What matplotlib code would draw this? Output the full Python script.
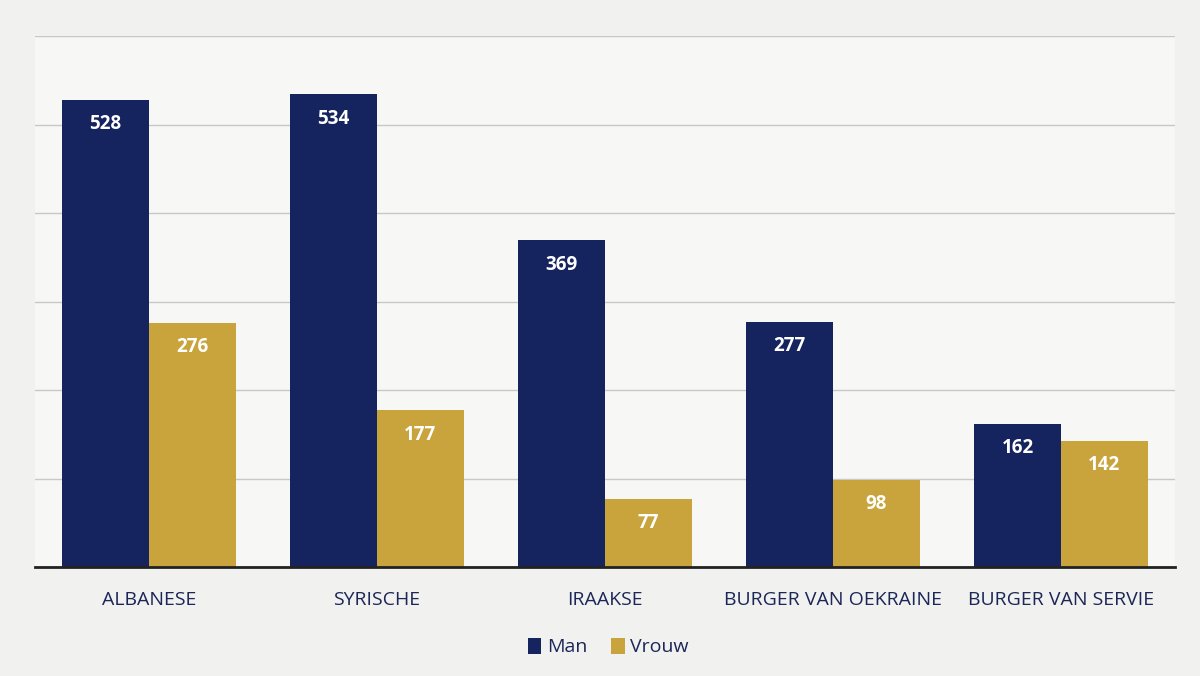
import numpy as np
import matplotlib.pyplot as plt

# data
categories = ["ALBANESE", "SYRISCHE", "IRAAKSE", "BURGER VAN OEKRAINE", "BURGER VAN SERVIE"]
man = [528, 534, 369, 277, 162]
vrouw = [276, 177, 77, 98, 142]

navy = "#15235f"
gold = "#c9a43c"
textc = "#1c2758"

plt.rcParams['font.family'] = ['Open Sans', 'DejaVu Sans']

fig = plt.figure(figsize=(12, 6.76), dpi=100)
fig.patch.set_facecolor("#f1f1f0")
ax = fig.add_axes([35 / 1200, 1 - 567 / 676, 1140 / 1200, (567 - 36) / 676])
ax.set_facecolor("#f7f7f6")

x = np.arange(len(categories))
w = 0.38
b1 = ax.bar(x - w / 2, man, w, color=navy, label="Man", zorder=3)
b2 = ax.bar(x + w / 2, vrouw, w, color=gold, label="Vrouw", zorder=3)

for bars, vals in [(b1, man), (b2, vrouw)]:
    for r, v in zip(bars, vals):
        ax.text(r.get_x() + r.get_width() / 2, v - 16, str(v), ha="center", va="top",
                color="white", fontsize=13.5, fontweight="bold", zorder=4)

ax.set_xlim(-0.5, 4.5)
ax.set_ylim(0, 600)
ax.set_yticks(range(0, 601, 100))
ax.set_yticklabels([])
ax.tick_params(axis="y", length=0)
ax.tick_params(axis="x", length=0, pad=17)
ax.set_xticks(x)
ax.set_xticklabels(categories, fontsize=14, color=textc, fontweight="medium")
ax.grid(axis="y", color="#c8c8c8", linewidth=1, zorder=0)
for s in ["top", "right", "left"]:
    ax.spines[s].set_visible(False)
ax.spines["bottom"].set_color("#222222")
ax.spines["bottom"].set_linewidth(2)
ax.spines["bottom"].set_zorder(5)

fig.legend(loc="center", bbox_to_anchor=(0.507, 1 - 647 / 676), ncol=2, frameon=False,
           fontsize=14, handlelength=0.7, handleheight=0.9, handletextpad=0.3,
           columnspacing=1.2, labelcolor=textc)

fig.savefig("out.png", dpi=100, facecolor=fig.get_facecolor())
